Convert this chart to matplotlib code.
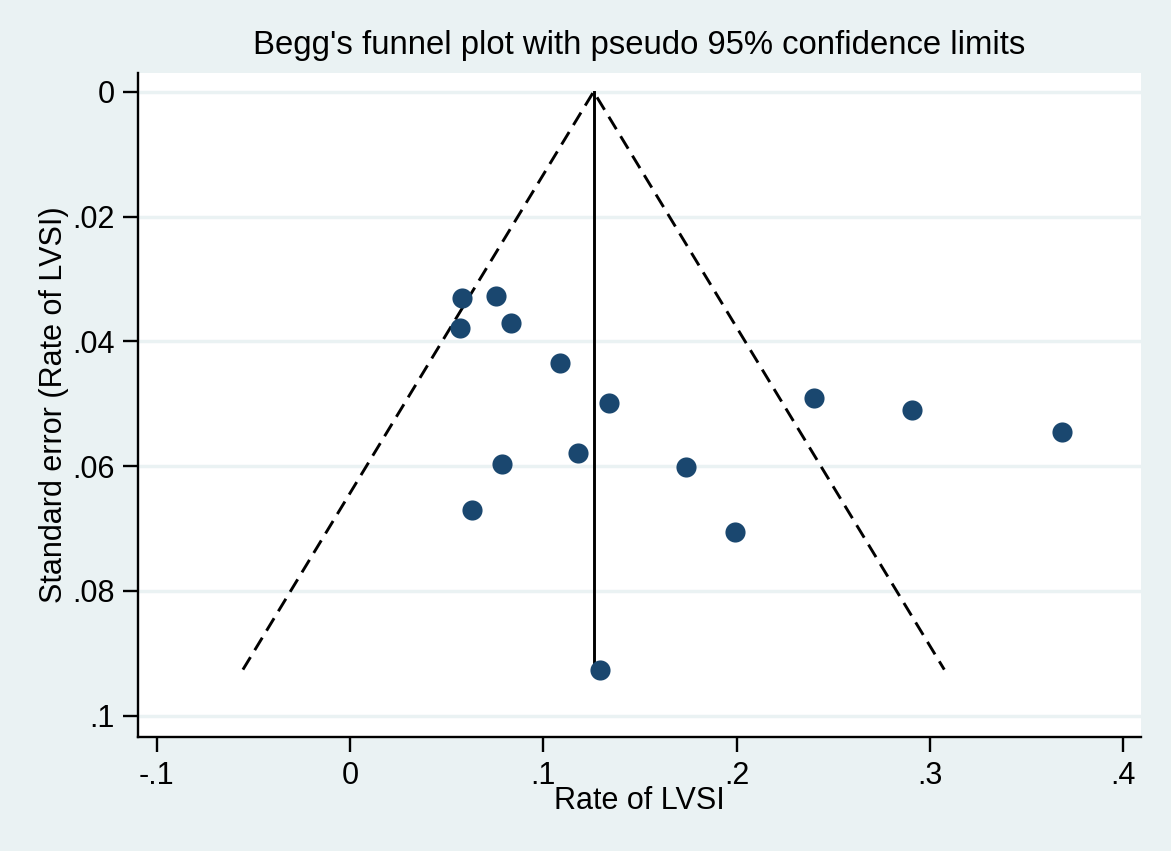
import numpy as np
import matplotlib.pyplot as plt

plt.rcParams['font.family'] = ['Liberation Sans', 'DejaVu Sans']

# study estimates (rate of LVSI) and their standard errors
rate = [0.0578, 0.0754, 0.0568, 0.0831, 0.1084, 0.1342, 0.2401, 0.2907,
        0.3686, 0.1177, 0.0785, 0.1740, 0.0630, 0.1993, 0.1291]
se = [0.0331, 0.0328, 0.0378, 0.0371, 0.0435, 0.0499, 0.0490, 0.0510,
      0.0546, 0.0579, 0.0597, 0.0602, 0.0670, 0.0706, 0.0926]
pooled = 0.126

xticks = [-0.1, 0, 0.1, 0.2, 0.3, 0.4]
xticklabels = ['-.1', '0', '.1', '.2', '.3', '.4']
yticks = [0, 0.02, 0.04, 0.06, 0.08, 0.1]
yticklabels = ['0', '.02', '.04', '.06', '.08', '.1']

bg = '#eaf2f3'
navy = '#1a476f'

fig = plt.figure(figsize=(11.71, 8.51), dpi=100, facecolor=bg)
ax = fig.add_axes([138 / 1171, 1 - 737 / 851, (1141 - 138) / 1171, (737 - 73) / 851])
ax.set_facecolor('white')

semax = max(se)
ax.plot([pooled - 1.96 * semax, pooled, pooled + 1.96 * semax], [semax, 0, semax],
        color='black', lw=2.1, dashes=(5, 2.8), zorder=2)
ax.plot([pooled, pooled], [0, semax], color='black', lw=2.1, zorder=2)
ax.scatter(rate, se, s=210, color=navy, zorder=3, linewidths=0)

ax.set_xlim(-0.1098, 0.4093)
ax.set_ylim(0.1034, -0.003)
ax.set_xticks(xticks)
ax.set_xticklabels(xticklabels)
ax.set_yticks(yticks)
ax.set_yticklabels(yticklabels)
ax.yaxis.grid(True, color=bg, lw=2.5)
ax.set_axisbelow(True)

for s in ['top', 'right']:
    ax.spines[s].set_visible(False)
for s in ['left', 'bottom']:
    ax.spines[s].set_linewidth(1.7)
ax.tick_params(axis='both', direction='out', length=11, width=1.7, labelsize=22, pad=6)

ax.set_xlabel('Rate of LVSI', fontsize=22, labelpad=-3)
ax.set_ylabel('Standard error (Rate of LVSI)', fontsize=22, labelpad=2)
ax.set_title("Begg's funnel plot with pseudo 95% confidence limits", fontsize=23.7, pad=14)

fig.savefig('out.png', dpi=100, facecolor=bg)
